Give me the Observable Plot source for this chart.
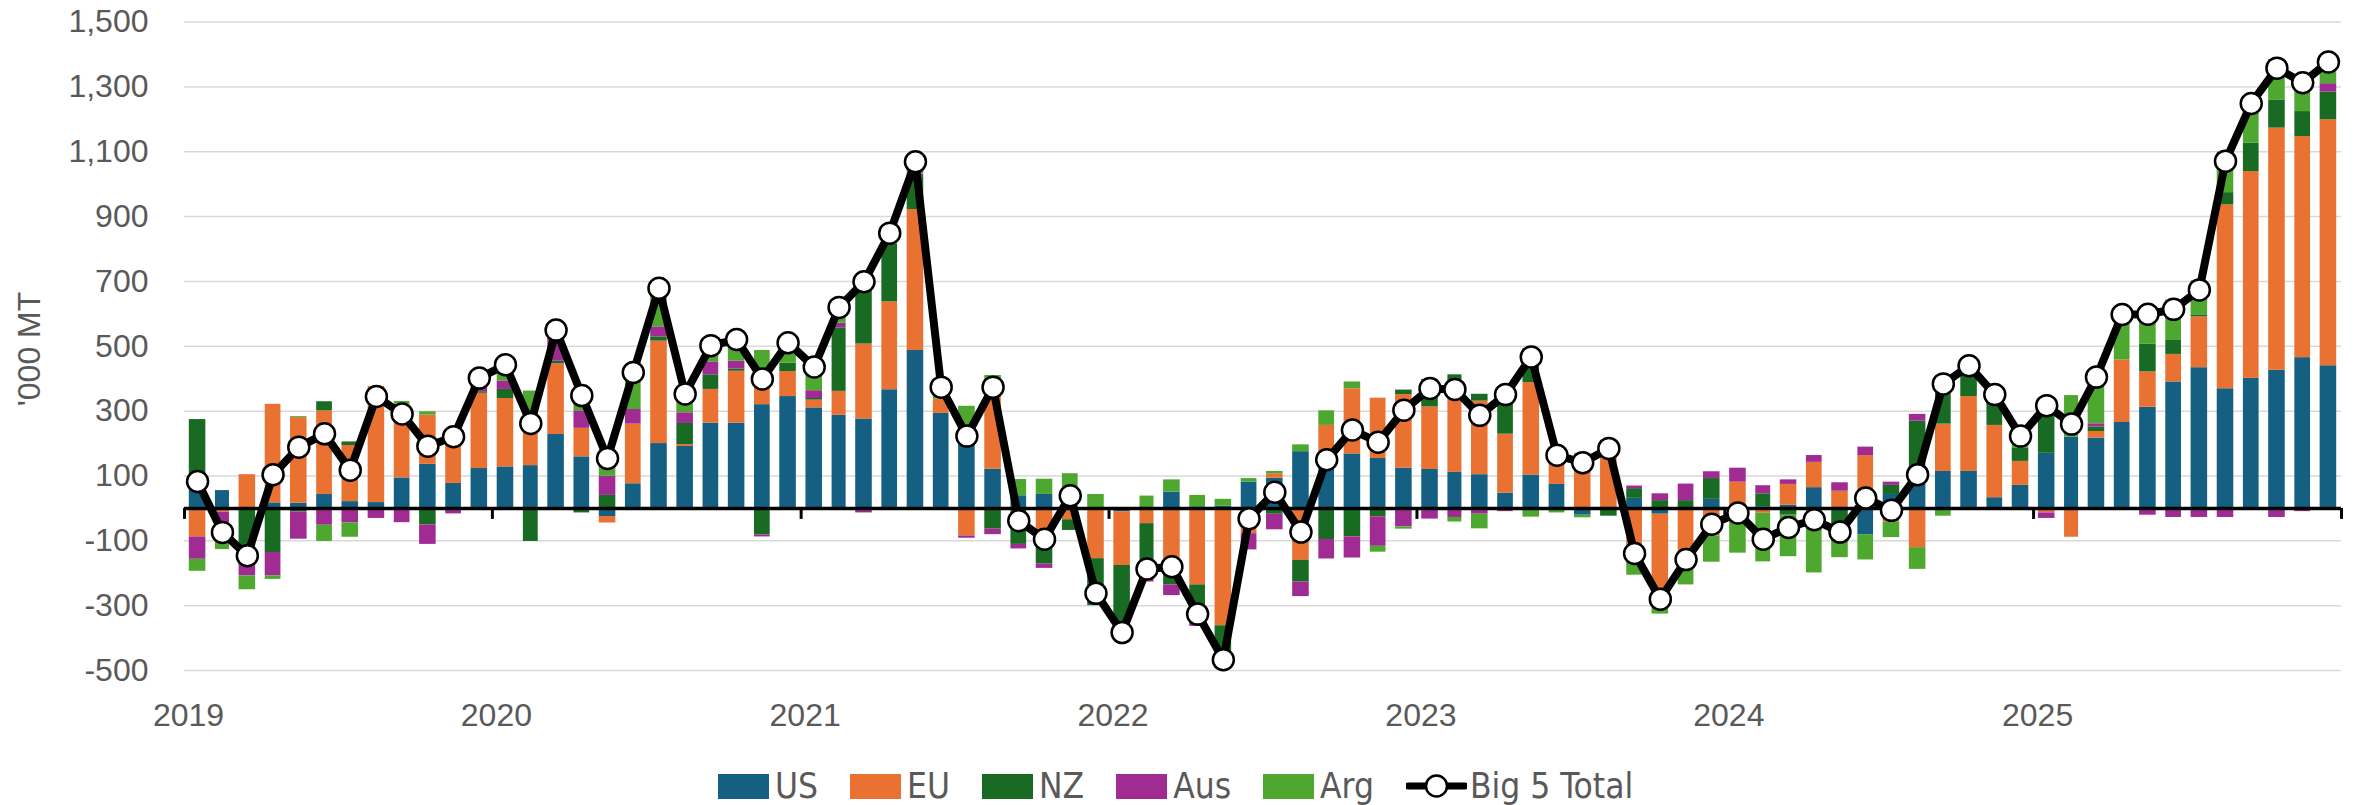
<!DOCTYPE html>
<html><head><meta charset="utf-8">
<script src="https://cdn.jsdelivr.net/npm/d3@7"></script>
<script src="https://cdn.jsdelivr.net/npm/@observablehq/plot@0.6"></script>
<style>
html,body{margin:0;padding:0;background:#fff;}
#wrap{position:relative;width:2361px;height:805px;overflow:hidden;background:#fff;}
#ytitle{position:absolute;left:29px;top:349px;transform:translate(-50%,-50%) rotate(-90deg);font-family:"Liberation Sans",Arial,sans-serif;font-size:32px;color:#595959;white-space:nowrap;}
#legend{position:absolute;top:768px;left:718px;height:36px;line-height:36px;display:flex;align-items:center;font-family:"Liberation Sans Narrow","DejaVu Sans Condensed","Liberation Sans",sans-serif;font-size:35px;color:#595959;white-space:nowrap;}
#legend .item{display:flex;align-items:center;margin-right:32px;}
#legend .sw{width:51px;height:25px;margin-right:6px;}
</style></head>
<body><div id="wrap"><div id="chart"></div><div id="ytitle">'000 MT</div><div id="legend"></div></div>
<script>
// ---- data (monthly, Jan 2019 – Dec 2025) ----
const yearLabels = ["2019","2020","2021","2022","2023","2024","2025"];
const seriesNames = ["US","EU","NZ","Aus","Arg"];
const totalName = "Big 5 Total";
const yTicks = [-500,-300,-100,100,300,500,700,900,1100,1300,1500];

const US = [
  57,55,0,17,16,43,21,18,94,136,77,123,
  128,132,228,159,-25,76,200,191,263,263,320,345,
  310,287,276,366,487,293,250,121,39,43,35,-5,
  -10,0,50,0,7,81,93,175,160,168,154,124,
  120,111,104,47,103,74,-21,0,31,-18,0,28,
  0,5,10,64,0,-81,43,92,114,114,33,71,
  170,220,217,265,312,390,434,369,401,426,465,440];
const EU = [
  -88,-12,104,304,264,258,173,358,228,152,161,232,
  211,140,218,88,-20,184,316,6,104,160,78,77,
  24,74,231,271,435,44,-85,227,0,-70,-35,-150,
  -166,-47,-191,-236,-362,-78,14,-160,96,201,186,227,
  193,230,227,182,285,104,170,210,-149,-258,-191,-85,
  81,-15,64,78,53,163,-43,-121,146,231,223,74,
  -14,-89,20,193,109,85,157,567,638,747,682,759];
const NZ = [
  217,0,-177,-136,-11,28,11,0,0,-51,0,5,
  28,-102,8,-14,40,0,13,65,45,7,-82,26,
  5,196,167,179,99,0,0,-64,-111,-102,-33,-145,
  -190,-166,-45,-118,-125,0,-18,-67,-96,-88,-26,14,
  85,71,21,130,105,0,0,-24,30,24,24,64,
  0,40,-21,0,-50,0,28,177,148,74,78,40,
  150,0,14,0,85,43,6,38,88,87,77,85];
const Aus = [
  -69,-90,-31,-72,-84,-52,-45,-31,-44,-60,-17,12,
  26,0,95,54,60,45,31,33,40,24,-6,-5,
  24,14,-14,0,10,0,-7,-17,-14,-13,0,0,
  -14,-14,-33,-10,-8,-50,-48,-45,-60,-65,-91,-57,
  -33,-28,-18,-10,0,0,0,0,8,21,51,21,
  43,25,14,21,26,26,10,21,0,0,0,-5,
  -17,0,10,0,-21,-28,-28,-28,-5,-28,-10,26];
const Arg = [
  -37,-25,-43,-11,3,-50,-44,0,8,10,0,30,
  50,90,0,61,80,110,110,55,50,65,89,63,
  70,50,40,33,38,37,65,62,50,47,72,43,
  0,38,38,40,21,11,7,21,45,21,-18,-7,
  0,-14,-45,0,-27,-14,-8,0,-57,-50,-45,-81,
  -138,-150,-128,-199,-102,-78,-47,-67,-24,20,17,35,
  15,128,144,140,115,125,105,125,120,125,100,67];
const Total = [
  83,-74,-146,104,189,230,118,345,291,192,221,402,
  443,262,550,348,154,419,679,353,502,521,399,511,
  436,620,699,849,1069,374,223,374,-38,-95,39,-262,
  -383,-187,-180,-326,-467,-32,50,-73,150,242,204,303,
  370,367,287,351,467,164,141,185,-139,-280,-158,-49,
  -14,-95,-59,-35,-73,32,-6,104,384,440,351,223,
  317,260,405,598,599,614,674,1071,1249,1358,1313,1377];

const seriesColors = ["#156082","#E97132","#196B24","#A02B93","#4EA72E"];

// ---- build tables ----
const seriesValues = [US, EU, NZ, Aus, Arg];
const firstYear = +yearLabels[0];
const months = d3.range(Total.length).map(i => new Date(Date.UTC(firstYear + Math.floor(i/12), i % 12, 1)));
const rows = [];
months.forEach((m, i) => {
  const m2 = d3.utcMonth.offset(m, 1);
  seriesNames.forEach((s, k) => rows.push({x1: m, x2: m2, value: seriesValues[k][i], series: s}));
});
const lineRows = months.map((m, i) => ({x: new Date((+m + +d3.utcMonth.offset(m, 1)) / 2), y: Total[i]}));
const yearDates = yearLabels.map(y => new Date(Date.UTC(+y, 0, 1)));
const tickDates = [...yearDates, new Date(Date.UTC(+yearLabels[yearLabels.length-1] + 1, 0, 1))];

const chart = Plot.plot({
  width: 2361, height: 748,
  marginLeft: 184, marginRight: 20, marginTop: 21.6, marginBottom: 78,
  style: {fontFamily: "'Liberation Sans', Arial, sans-serif", fontSize: "32px", color: "#595959", background: "#fff"},
  x: {type: "utc", domain: [tickDates[0], tickDates[tickDates.length-1]]},
  y: {domain: [-500, 1500]},
  color: {domain: seriesNames, range: seriesColors},
  marks: [
    Plot.gridY(yTicks, {stroke: "#d9d9d9", strokeOpacity: 1, strokeWidth: 1.5}),
    Plot.axisY(yTicks, {tickSize: 0, tickPadding: 36, tickFormat: d => d.toLocaleString("en-US"), label: null, fill: "#595959"}),
    Plot.axisX(yearDates, {tickSize: 0, tickPadding: 33, tickFormat: d3.utcFormat("%Y"), label: null, fill: "#595959", dx: 4}),
    Plot.rectY(rows, {x1: "x1", x2: "x2", y: "value", fill: "series", insetLeft: 4.8, insetRight: 4.8}),
    Plot.ruleY([0], {stroke: "#000", strokeWidth: 3.5}),
    Plot.ruleX(tickDates, {x: d => d, y1: 0, y2: 0, insetBottom: -11, stroke: "#000", strokeWidth: 3}),
    Plot.line(lineRows, {x: "x", y: "y", stroke: "#000", strokeWidth: 8, strokeLinejoin: "round"}),
    Plot.dot(lineRows, {x: "x", y: "y", r: 10.5, fill: "#fff", stroke: "#000", strokeWidth: 2.5})
  ]
});
document.getElementById("chart").appendChild(chart);

// ---- legend ----
const legend = document.getElementById("legend");
seriesNames.forEach((s, k) => {
  const it = document.createElement("div"); it.className = "item";
  it.innerHTML = `<div class="sw" style="background:${seriesColors[k]}"></div><span>${s}</span>`;
  legend.appendChild(it);
});
const it = document.createElement("div"); it.className = "item"; it.style.marginRight = "0";
it.innerHTML = `<svg width="61" height="30" style="margin-right:3px"><line x1="2" y1="15" x2="59" y2="15" stroke="#000" stroke-width="7" stroke-linecap="round"/><circle cx="30.5" cy="15" r="10.5" fill="#fff" stroke="#000" stroke-width="2.5"/></svg><span>${totalName}</span>`;
legend.appendChild(it);
</script>
</body></html>
